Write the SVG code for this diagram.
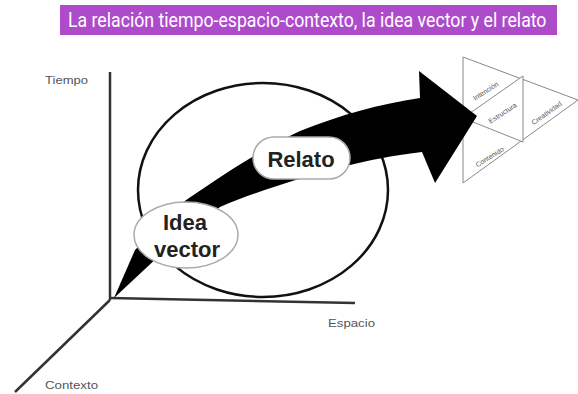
<svg xmlns="http://www.w3.org/2000/svg" width="578" height="394" viewBox="0 0 578 394">
<style>
.axis{stroke:#333;stroke-width:2.5;fill:none}
.lbl{font-family:"Liberation Sans",Arial,sans-serif;font-size:10px;fill:#555}
.bub{fill:#fff;stroke:#aaa;stroke-width:1.5}
.bt{font-family:"Liberation Sans",Arial,sans-serif;font-size:22px;font-weight:bold;fill:#222;text-anchor:middle}
.tri{fill:#fff;stroke:#888;stroke-width:1}
.tl{font-family:"Liberation Sans",Arial,sans-serif;font-size:7px;fill:#555;text-anchor:middle}
</style>
<rect width="578" height="394" fill="#fff"/>
<g id="title">
<rect x="60" y="5" width="497" height="30" fill="#AD4BCB"/>
<text transform="translate(68,27) scale(0.885,1)" x="0" y="0" font-family="Roboto,'Liberation Sans',sans-serif" font-size="20" fill="#fff">La relación tiempo-espacio-contexto, la idea vector y el relato</text>
</g>
<g id="axes">
<line class="axis" x1="110" y1="72" x2="110" y2="300"/>
<line class="axis" x1="110" y1="298" x2="355" y2="303"/>
<line class="axis" x1="110" y1="300" x2="15" y2="392" stroke-width="2"/>
<text class="lbl" x="45" y="84" textLength="43" lengthAdjust="spacingAndGlyphs">Tiempo</text>
<text class="lbl" x="328" y="327" textLength="47" lengthAdjust="spacingAndGlyphs">Espacio</text>
<text class="lbl" x="45" y="389" textLength="53" lengthAdjust="spacingAndGlyphs">Contexto</text>
</g>
<g id="context-ellipse">
<ellipse cx="263" cy="190" rx="125" ry="107" fill="none" stroke="#111" stroke-width="2.5"/>
</g>
<g id="triangles">
<polygon class="tri" points="463,57 463,183 578,100"/>
<polygon class="tri" points="523,76 523,142 463,118"/>
<text class="tl" transform="translate(487,93) rotate(-33)">Intención</text>
<text class="tl" transform="translate(504,115) rotate(-33)">Estructura</text>
<text class="tl" transform="translate(491,159) rotate(-32)">Contenido</text>
<text class="tl" transform="translate(548,115) rotate(-35)">Creatividad</text>
</g>
<g id="connectors">
<path d="M182,203 C215,180 260,150 300,131 C340,115 380,104 420,98 L419,71 L477,116 L435,183 L422,152 C390,156 370,160 350,165 C310,175 260,190 220,207 L160,255 L114,298 L135,250 Z" fill="#000"/>
</g>
<g id="idea-vector">
<ellipse class="bub" cx="186" cy="235" rx="52" ry="33"/>
<text class="bt" x="185" y="230">Idea</text>
<text class="bt" x="187" y="257">vector</text>
</g>
<g id="relato">
<rect class="bub" x="253" y="137" width="97" height="42" rx="21"/>
<text class="bt" x="301" y="167">Relato</text>
</g>
</svg>
